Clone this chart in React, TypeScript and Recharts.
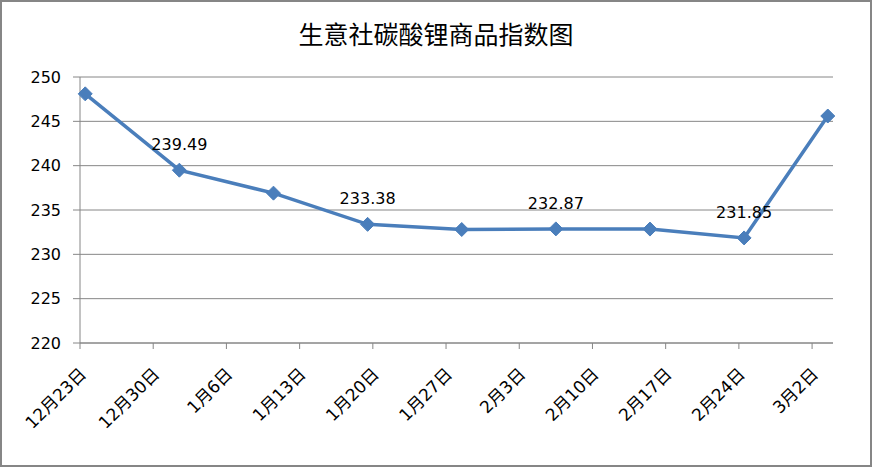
import { LineChart, Line, XAxis, YAxis, CartesianGrid, LabelList } from 'recharts'

const title = '生意社碳酸锂商品指数图'
// tick labels, one every 7 days from 12月23日
const tickLabels = ['12月23日', '12月30日', '1月6日', '1月13日', '1月20日', '1月27日', '2月3日', '2月10日', '2月17日', '2月24日', '3月2日']
const tickDays = [0, 7, 14, 21, 28, 35, 42, 49, 56, 63, 70]
// points, days since 12月23日 (date axis, centred in the day)
const pointDays = [0.5, 9.5, 18.5, 27.5, 36.5, 45.5, 54.5, 63.5, 71.5]
const values = [248.1, 239.49, 236.9, 233.38, 232.8, 232.87, 232.85, 231.85, 245.6]
const shownLabels = ['', '239.49', '', '233.38', '', '232.87', '', '231.85', '']
const yTicks = [220, 225, 230, 235, 240, 245, 250]

const data = pointDays.map((d, i) => ({ day: d, value: values[i], label: shownLabels[i] }))

const FONT = '"DejaVu Sans", "Noto Sans CJK SC", sans-serif'
const BLUE = '#4a7ebb'
const GRID = '#868686'

const Diamond = (props: any) => {
  const { cx, cy } = props
  if (cx == null || cy == null) return null
  const r = 7
  return <path d={`M${cx},${cy - r}L${cx + r},${cy}L${cx},${cy + r}L${cx - r},${cy}Z`} fill={BLUE} stroke={BLUE} />
}

const XTick = ({ x, y, payload }: any) => {
  const idx = tickDays.indexOf(payload.value)
  return (
    <g transform={`translate(${x + 3},${y + 20}) rotate(-45)`}>
      <text x={0} y={0} dy="0.35em" textAnchor="end" fontSize={17} fill="#000" fontFamily={FONT}>
        {tickLabels[idx]}
      </text>
    </g>
  )
}

export default function App() {
  return (
    <div style={{ position: 'absolute', left: 0, top: 0, width: 872, height: 467, background: '#fff' }}>
      <div style={{
        position: 'absolute', left: 0, top: 0, width: 868, height: 463,
        border: '2px solid #868686'
      }} />
      <div style={{
        position: 'absolute', left: 0, top: 15, width: 872, textAlign: 'center',
        fontFamily: '"Noto Sans CJK SC", sans-serif', fontSize: 25, color: '#000'
      }}>{title}</div>
      <LineChart
        width={872}
        height={467}
        data={data}
        margin={{ top: 77, right: 39, bottom: 0, left: 0 }}
        style={{ position: 'absolute', left: 0, top: 0 }}
      >
        <CartesianGrid vertical={false} stroke={GRID} />
        <XAxis
          dataKey="day"
          type="number"
          domain={[0, 72]}
          ticks={tickDays}
          interval={0}
          stroke={GRID}
          tickSize={6}
          tick={<XTick />}
          height={124}
        />
        <YAxis
          type="number"
          domain={[220, 250]}
          ticks={yTicks}
          interval={0}
          stroke={GRID}
          tickSize={7}
          tickMargin={12}
          width={80}
          tick={{ fontSize: 16, fill: '#000', fontFamily: FONT }}
        />
        <Line
          dataKey="value"
          stroke={BLUE}
          strokeWidth={3.5}
          dot={<Diamond />}
          activeDot={false}
          isAnimationActive={false}
        >
          <LabelList dataKey="label" position="top" offset={20} fontSize={16} fill="#000" fontFamily={FONT} />
        </Line>
      </LineChart>
    </div>
  )
}
